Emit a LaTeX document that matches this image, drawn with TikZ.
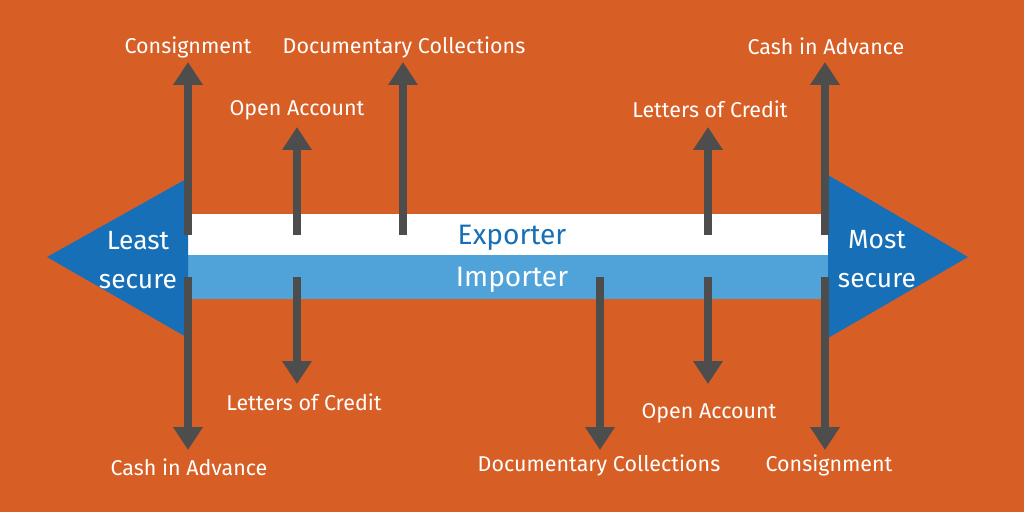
\documentclass[tikz,border=0pt]{standalone}
\usepackage{fontspec}
\setmainfont{Fira Sans}
\usetikzlibrary{arrows.meta}
\definecolor{bgorange}{HTML}{D75F26}
\definecolor{darkblue}{HTML}{176FB7}
\definecolor{lightblue}{HTML}{4FA3D9}
\definecolor{arrgray}{HTML}{4D4D4D}

\begin{document}
\begin{tikzpicture}[
  x=0.02cm, y=-0.02cm,
  lbl/.style={text=white, inner sep=0, font=\fontsize{12.2}{14}\selectfont},
  bar/.style={minimum width=12.8cm, inner sep=0},
  bartxt/.style={inner sep=0, font=\fontsize{16}{18}\selectfont},
  side/.style={text=white, inner sep=0, align=center, font=\fontsize{15}{22.5}\selectfont},
  arr/.style={draw=arrgray, line width=4.5pt, -{Triangle[width=16pt,length=13pt]}}
]
\fill[bgorange] (0,0) rectangle (1024,512);
\useasboundingbox (0,0) rectangle (1024,512);

% the two bars
\node[bar, fill=white, minimum height=0.84cm] (exp) at (508,235) {};
\node[bar, fill=lightblue, minimum height=0.88cm] (imp) at (508,277) {};
\node[bartxt, text=darkblue] (exptxt) at (512,238) {Exporter};
\node[bartxt, text=white] (imptxt) at (512,280) {Importer};

% end triangles
\fill[darkblue] (188,178) -- (47,257) -- (188,338) -- cycle;
\fill[darkblue] (828,175) -- (968,257) -- (828,338) -- cycle;
\node[side] (least) at (138,260) {Least\\secure};
\node[side] (most) at (877,259) {Most\\secure};

% exporter side: arrows up
\foreach \x/\t/\lx/\ly/\txt [count=\i] in {
  188/62/188/47/Consignment,
  297/127/297/110/Open Account,
  403/62/404/47/Documentary Collections,
  708/127/710/109/Letters of Credit,
  825/62/826/46/Cash in Advance}{
  \coordinate (us\i) at (\x,235);
  \coordinate (ut\i) at (\x,\t);
  \draw[arr] (us\i) -- (ut\i);
  \node[lbl] (up\i) at (\lx,\ly) {\txt};
}

% importer side: arrows down
\foreach \x/\t/\lx/\ly/\txt [count=\i] in {
  188/450/189/467/Cash in Advance,
  297/384/304/402/Letters of Credit,
  600/450/599/465/Documentary Collections,
  708/384/709/413/Open Account,
  825/450/829/465/Consignment}{
  \coordinate (ds\i) at (\x,277);
  \coordinate (dt\i) at (\x,\t);
  \draw[arr] (ds\i) -- (dt\i);
  \node[lbl] (dn\i) at (\lx,\ly) {\txt};
}
\end{tikzpicture}
\end{document}
